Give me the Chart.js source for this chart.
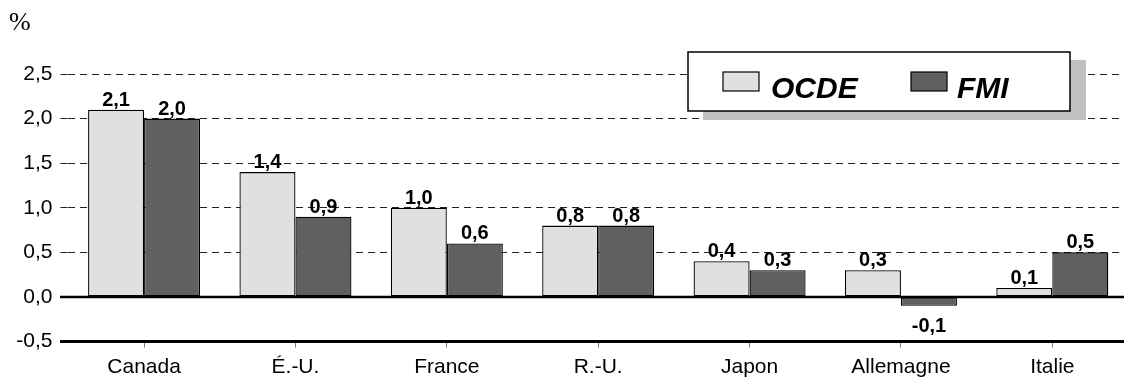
<!DOCTYPE html>
<html>
<head>
<meta charset="utf-8">
<script src="https://cdn.jsdelivr.net/npm/chart.js@4"></script>
<style>
  body { margin: 0; overflow: hidden; background: #fff; }
  canvas { display: block; }
</style>
</head>
<body>
<canvas id="growth" width="1128" height="381"></canvas>
<script>
// Data
const countries = ["Canada", "É.-U.", "France", "R.-U.", "Japon", "Allemagne", "Italie"];
const ocde = [2.1, 1.4, 1.0, 0.8, 0.4, 0.3, 0.1];
const fmi = [2.0, 0.9, 0.6, 0.8, 0.3, -0.1, 0.5];
const seriesNames = ["OCDE", "FMI"];
const seriesColors = ["#e0e0e0", "#606060"];

const fmt = v => v.toFixed(1).replace(".", ",");
const SANS = "'Liberation Sans', Arial, sans-serif";

// solid lines at 0 and at the bottom, value labels, "%" and the boxed legend
const extras = {
    id: "extras",
    afterDatasetsDraw(chart) {
        const ctx = chart.ctx;
        const y = chart.scales.y;
        const area = chart.chartArea;
        ctx.save();
        ctx.strokeStyle = "#000";
        ctx.lineWidth = 2.5;
        ctx.beginPath();
        ctx.moveTo(60, y.getPixelForValue(0));
        ctx.lineTo(area.right, y.getPixelForValue(0));
        ctx.stroke();
        ctx.lineWidth = 3;
        ctx.beginPath();
        ctx.moveTo(60, y.getPixelForValue(-0.5));
        ctx.lineTo(area.right, y.getPixelForValue(-0.5));
        ctx.stroke();

        // value labels
        ctx.fillStyle = "#000";
        ctx.font = "bold 20px " + SANS;
        ctx.textAlign = "center";
        chart.data.datasets.forEach((ds, i) => {
            chart.getDatasetMeta(i).data.forEach((bar, j) => {
                const v = ds.data[j];
                if (v >= 0) {
                    ctx.textBaseline = "alphabetic";
                    ctx.fillText(fmt(v), bar.x, bar.y - 4);
                } else {
                    ctx.textBaseline = "alphabetic";
                    ctx.fillText(fmt(v), bar.x, bar.y + 26);
                }
            });
        });
        ctx.restore();
    },
    afterDraw(chart) {
        const ctx = chart.ctx;
        ctx.save();
        ctx.fillStyle = "#000";
        ctx.font = "26px 'Liberation Serif', 'Times New Roman', serif";
        ctx.textAlign = "left";
        ctx.textBaseline = "alphabetic";
        ctx.fillText("%", 9, 30);

        // legend box with shadow
        ctx.fillStyle = "#c0c0c0";
        ctx.fillRect(703, 60, 383, 60);
        ctx.fillStyle = "#fff";
        ctx.fillRect(688, 52, 382, 59);
        ctx.strokeStyle = "#000";
        ctx.lineWidth = 1.5;
        ctx.strokeRect(688, 52, 382, 59);

        const items = [[723, 771], [911, 957]];
        ctx.font = "italic bold 30px " + SANS;
        ctx.textBaseline = "alphabetic";
        chart.data.datasets.forEach((ds, i) => {
            const [sx, tx] = items[i];
            ctx.fillStyle = ds.backgroundColor;
            ctx.fillRect(sx, 72, 36, 19);
            ctx.lineWidth = 1.2;
            ctx.strokeRect(sx, 72, 36, 19);
            ctx.fillStyle = "#000";
            ctx.fillText(ds.label, tx, 98);
        });
        ctx.restore();
    }
};

new Chart("growth", {
    type: "bar",
    data: {
        labels: countries,
        datasets: [
            { label: seriesNames[0], data: ocde, backgroundColor: seriesColors[0] },
            { label: seriesNames[1], data: fmi, backgroundColor: seriesColors[1] }
        ]
    },
    options: {
        responsive: false,
        animation: false,
        layout: { padding: { top: 74, left: 0, right: 0, bottom: 0 } },
        datasets: {
            bar: {
                borderColor: "#000",
                borderWidth: 1.3,
                borderSkipped: false,
                categoryPercentage: 0.74,
                barPercentage: 1.0
            }
        },
        plugins: {
            legend: { display: false },
            tooltip: { enabled: false }
        },
        scales: {
            x: {
                grid: {
                    offset: false,
                    drawOnChartArea: false,
                    tickLength: 6,
                    tickColor: "#777",
                    tickWidth: 1
                },
                border: { display: false },
                ticks: {
                    color: "#000",
                    font: { family: SANS, size: 21 },
                    padding: 7,
                    maxRotation: 0
                },
                afterFit: s => { s.height = 39.5; }
            },
            y: {
                min: -0.5,
                max: 2.5,
                grid: {
                    color: c => (c.tick.value <= 0 ? "rgba(0,0,0,0)" : "#222"),
                    lineWidth: 1,
                    tickLength: 8,
                    tickBorderDash: [7, 5]
                },
                border: { display: false, dash: [7, 5] },
                ticks: {
                    stepSize: 0.5,
                    color: "#000",
                    font: { family: SANS, size: 21 },
                    padding: 8,
                    callback: v => fmt(v)
                },
                afterFit: s => { s.width = 68.4; }
            }
        }
    },
    plugins: [extras]
});
</script>
</body>
</html>
